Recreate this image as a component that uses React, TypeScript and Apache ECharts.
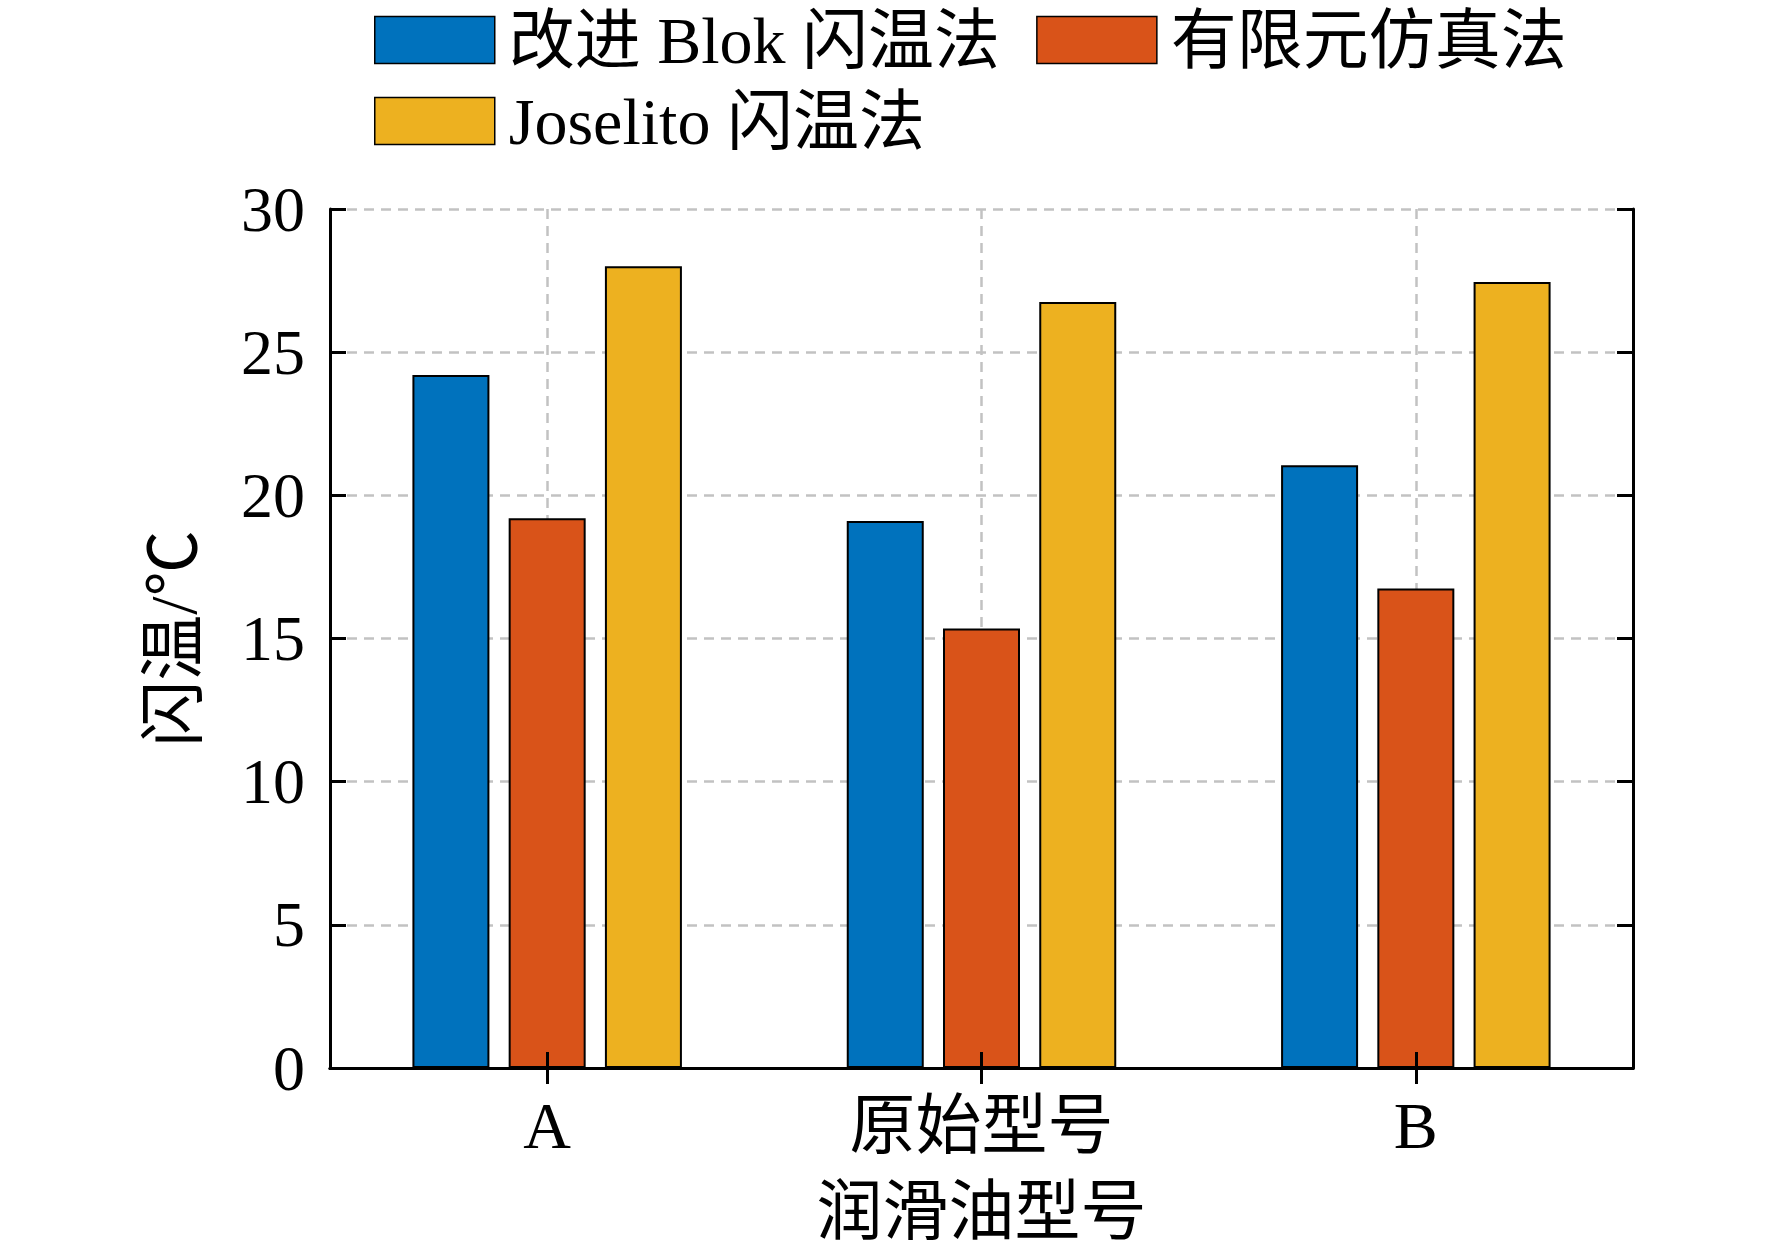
import React, { useEffect, useRef } from "react";
import * as echarts from "echarts";

const categories = ["A", "原始型号", "B"];
const seriesNames = ["改进 Blok 闪温法", "有限元仿真法", "Joselito 闪温法"];
const blokValues = [24.2, 19.1, 21.05];
const femValues = [19.2, 15.35, 16.75];
const joselitoValues = [28.0, 26.75, 27.45];
const colors = ["#0072BD", "#D95319", "#EDB120"];
const yTicks = { min: 0, max: 30, interval: 5 };

const FONT = "'Liberation Serif', 'Times New Roman', 'Noto Sans CJK SC', serif";
const FS = 64;
const FS_CJK = 66;

export default function App() {
  const ref = useRef<HTMLDivElement>(null);
  useEffect(() => {
    if (!ref.current) return;
    const chart = echarts.init(ref.current, undefined, { renderer: "svg" });
    const dash = { color: "#c2c2c2", width: 2.5, type: [10, 7] as number[] };
    const values = [blokValues, femValues, joselitoValues];
    const legendText = {
      fontFamily: FONT,
      fontSize: FS_CJK,
      lineHeight: 66,
      color: "#000",
      padding: [0, 0, 0, 9],
    };
    const option: any = {
      animation: false,
      backgroundColor: "#ffffff",
      textStyle: { fontFamily: FONT },
      legend: [
        {
          data: [seriesNames[0], seriesNames[1]],
          left: 374,
          top: 7,
          padding: 0,
          icon: "rect",
          itemWidth: 120,
          itemHeight: 47,
          itemGap: 36,
          itemStyle: { borderColor: "#000", borderWidth: 1.5 },
          textStyle: legendText,
        },
        {
          data: [seriesNames[2]],
          left: 374,
          top: 88,
          padding: 0,
          icon: "rect",
          itemWidth: 120,
          itemHeight: 47,
          itemStyle: { borderColor: "#000", borderWidth: 1.5 },
          textStyle: legendText,
        },
      ],
      grid: { left: 330, right: 139, top: 209, bottom: 183, containLabel: false },
      xAxis: [
        {
          type: "category",
          data: categories,
          position: "bottom",
          boundaryGap: true,
          name: "润滑油型号",
          nameLocation: "middle",
          nameGap: 110,
          nameTextStyle: { fontFamily: FONT, fontSize: FS_CJK, color: "#000" },
          axisLine: { show: true, lineStyle: { color: "#000", width: 3 } },
          axisTick: { show: false, alignWithLabel: true },
          axisLabel: { fontFamily: FONT, fontSize: FS_CJK, color: "#000", margin: 24, interval: 0 },
          splitLine: { show: true, alignWithLabel: true, interval: 0, lineStyle: dash },
        },
        {
          type: "category",
          data: categories,
          position: "top",
          boundaryGap: true,
          z: 5,
          axisLine: { show: true, lineStyle: { color: "#000", width: 3 } },
          axisTick: { show: true, inside: true, alignWithLabel: true, interval: 0, length: 16, lineStyle: { color: "#000", width: 3 } },
          axisLabel: { show: false },
          splitLine: { show: false },
        },
        {
          type: "category",
          data: categories,
          position: "bottom",
          boundaryGap: true,
          z: 5,
          axisLine: { show: false },
          axisTick: { show: true, inside: true, alignWithLabel: true, interval: 0, length: 16, lineStyle: { color: "#000", width: 3 } },
          axisLabel: { show: false },
          splitLine: { show: false },
        },
      ],
      yAxis: [
        {
          type: "value",
          position: "left",
          min: yTicks.min,
          max: yTicks.max,
          interval: yTicks.interval,
          name: "闪温/℃",
          nameLocation: "middle",
          nameGap: 124,
          nameTextStyle: { fontFamily: FONT, fontSize: FS_CJK, color: "#000" },
          axisLine: { show: true, lineStyle: { color: "#000", width: 3 } },
          axisTick: { show: true, inside: true, length: 16, lineStyle: { color: "#000", width: 3 } },
          axisLabel: { fontFamily: FONT, fontSize: FS, color: "#000", margin: 25 },
          splitLine: { show: true, lineStyle: dash },
        },
        {
          type: "value",
          position: "right",
          min: yTicks.min,
          max: yTicks.max,
          interval: yTicks.interval,
          axisLine: { show: true, lineStyle: { color: "#000", width: 3 } },
          axisTick: { show: true, inside: true, length: 16, lineStyle: { color: "#000", width: 3 } },
          axisLabel: { show: false },
          splitLine: { show: false },
        },
      ],
      series: seriesNames.map((name, i) => ({
        name,
        type: "bar",
        xAxisIndex: 0,
        yAxisIndex: 0,
        data: values[i],
        barWidth: 77,
        barGap: "25%",
        itemStyle: { color: colors[i], borderColor: "#000", borderWidth: 2 },
      })),
    };
    chart.setOption(option);
    return () => chart.dispose();
  }, []);
  return (
    <div
      ref={ref}
      style={{ position: "absolute", left: 0, top: 0, width: 1772, height: 1251 }}
    />
  );
}
